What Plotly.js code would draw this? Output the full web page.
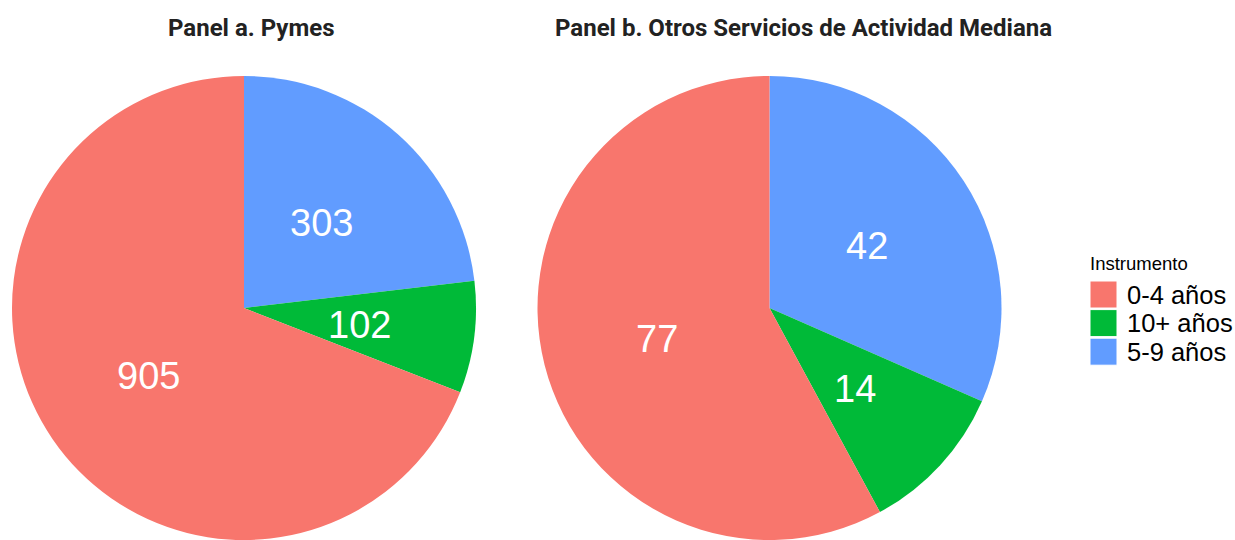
<!DOCTYPE html>
<html>
<head>
<meta charset="utf-8">
<script src="https://cdn.plot.ly/plotly-3.0.1.min.js"></script>
<style>html,body{margin:0;padding:0;background:#fff;}#chart{width:1235px;height:540px;}</style>
</head>
<body>
<div id="chart"></div>
<script>
// Data
const categories = ["0-4 años", "10+ años", "5-9 años"];
const pymesValues = [905, 102, 303];
const otrosValues = [77, 14, 42];
const panelTitles = ["Panel a. Pymes", "Panel b. Otros Servicios de Actividad Mediana"];
const legendTitle = "Instrumento";
const colors = ["#F8766D", "#00BA38", "#619CFF"];

const W = 1235, H = 540;
const R = 232.5;            // pie radius in px
const cy = 308.5;           // pie centre y (from top)
const centresX = [244, 769.5];
const labelFont = {family: 'Liberation Sans, Arial, sans-serif', size: 38, color: '#ffffff'};

function dom(cx) {
  return {
    x: [(cx - R) / W, (cx + R) / W],
    y: [(H - cy - R) / H, (H - cy + R) / H]
  };
}

// Slices are drawn clockwise from 12 o'clock in reverse category order
const rev = a => a.slice().reverse();

const common = {
  type: 'pie',
  labels: rev(categories),
  sort: false,
  direction: 'clockwise',
  rotation: 0,
  marker: {colors: rev(colors), line: {width: 0}},
  textinfo: 'none',
  hoverinfo: 'label+value',
  showlegend: false
};

const seriesList = [pymesValues, otrosValues];
const data = seriesList.map((vals, k) =>
  Object.assign({}, common, {values: rev(vals), domain: dom(centresX[k]), name: panelTitles[k]})
);

const annotations = [
  {text: '<b>' + panelTitles[0] + '</b>', x: 251 / W, y: 1 - 28 / H},
  {text: '<b>' + panelTitles[1] + '</b>', x: 803 / W, y: 1 - 28 / H}
].map(a => Object.assign(a, {
  xref: 'paper', yref: 'paper', xanchor: 'center', yanchor: 'middle', showarrow: false,
  font: {family: 'Roboto, sans-serif', size: 24, color: '#222222'}
}));

// Value labels: placed at the middle angle of each slice, half-way out
seriesList.forEach((vals, k) => {
  const v = rev(vals);
  const total = v.reduce((a, b) => a + b, 0);
  let cum = 0;
  v.forEach(val => {
    const mid = (cum + val / 2) / total * 2 * Math.PI;
    cum += val;
    const px = centresX[k] + 0.5 * R * Math.sin(mid);
    const py = cy + 1.5 - 0.5 * R * Math.cos(mid);
    annotations.push({
      text: String(val), xref: 'paper', yref: 'paper',
      x: px / W, y: 1 - py / H, xanchor: 'center', yanchor: 'middle',
      showarrow: false, font: labelFont
    });
  });
});

// Custom legend (keys large as in the reference)
const shapes = [];
const legX = 1090, keySize = 27, key0 = 281, keyStep = 28.6;
annotations.push({
  text: legendTitle, xref: 'paper', yref: 'paper', x: (legX - 2) / W, y: 1 - 263 / H,
  xanchor: 'left', yanchor: 'middle', showarrow: false,
  font: {family: 'Liberation Sans, Arial, sans-serif', size: 18.5, color: '#000000'}
});
categories.forEach((c, i) => {
  const top = key0 + i * keyStep;
  shapes.push({
    type: 'rect', xref: 'paper', yref: 'paper',
    x0: legX / W, x1: (legX + keySize) / W,
    y0: 1 - (top + keySize) / H, y1: 1 - top / H,
    fillcolor: colors[i], line: {color: '#ffffff', width: 1}
  });
  annotations.push({
    text: c, xref: 'paper', yref: 'paper', x: (legX + keySize + 8) / W, y: 1 - (top + keySize / 2) / H,
    xanchor: 'left', yanchor: 'middle', showarrow: false,
    font: {family: 'Liberation Sans, Arial, sans-serif', size: 25.5, color: '#000000'}
  });
});

const layout = {
  width: W, height: H,
  margin: {l: 0, r: 0, t: 0, b: 0, pad: 0},
  paper_bgcolor: '#ffffff', plot_bgcolor: '#ffffff',
  showlegend: false,
  annotations: annotations,
  shapes: shapes
};

Plotly.newPlot('chart', data, layout, {displayModeBar: false, staticPlot: true});
</script>
</body>
</html>
